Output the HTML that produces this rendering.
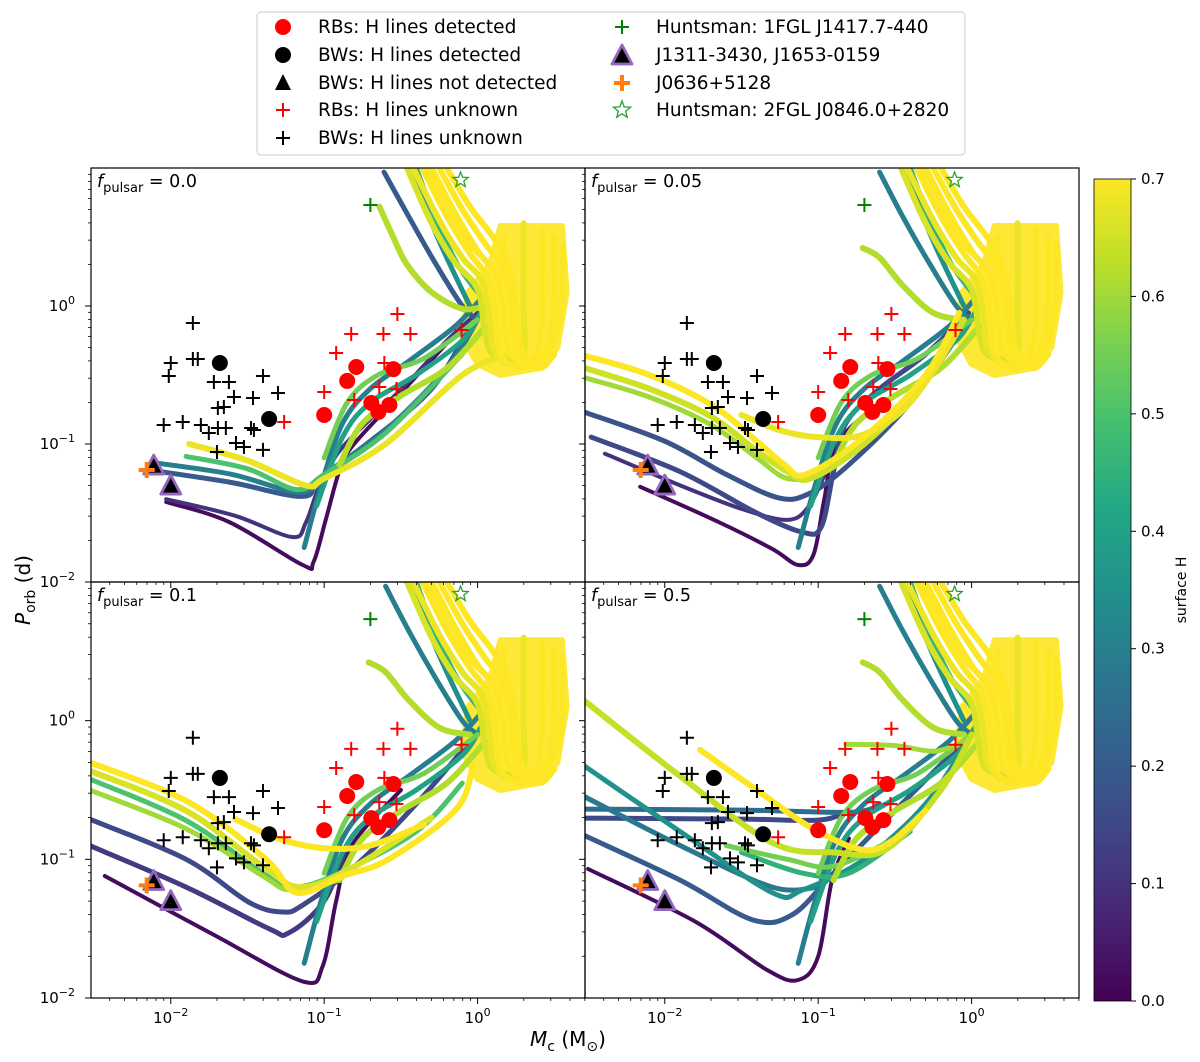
<!DOCTYPE html>
<html><head><meta charset="utf-8">
<style>
html,body{margin:0;padding:0;background:#fff;}
svg{display:block;font-family:"DejaVu Sans","Liberation Sans",sans-serif;}
</style></head>
<body>
<svg id="chart" width="1200" height="1062" viewBox="0 0 1200 1062" xmlns="http://www.w3.org/2000/svg">
<g id="tracks-layer"></g>
<g id="points-layer"></g>
<g id="axes-layer"></g>
</svg>
<script>
// ---- scatter data (log10 Mc, log10 Porb) ----
const bwUnknownX = [-1.856,-2.0,-2.013,-1.856,-1.824,-1.719,-1.621,-1.588,-1.464,-1.399,-1.301,-1.693,-1.654,-2.046,-1.922,-1.804,-1.693,-1.641,-1.752,-1.477,-1.458,-1.575,-1.523,-1.399,-1.699];
const bwUnknownY = [-0.123,-0.413,-0.507,-0.384,-0.384,-0.551,-0.551,-0.659,-0.667,-0.507,-0.630,-0.739,-0.732,-0.862,-0.841,-0.862,-0.884,-0.884,-0.920,-0.884,-0.899,-0.993,-1.022,-1.043,-1.058];
const bwDetX = [-1.680,-1.359];
const bwDetY = [-0.413,-0.819];
const rbDetX = [-0.791,-0.850,-1.0,-0.549,-0.693,-0.647,-0.575];
const rbDetY = [-0.442,-0.543,-0.790,-0.457,-0.703,-0.768,-0.717];
const rbUnknownX = [-0.523,-0.824,-0.614,-0.438,-0.922,-1.0,-0.804,-0.641,-0.529,-1.261,-0.608,-0.105];
const rbUnknownY = [-0.058,-0.203,-0.203,-0.203,-0.341,-0.623,-0.681,-0.587,-0.601,-0.841,-0.413,-0.174];
const huntsman1X = [-0.699], huntsman1Y = [0.732];
const huntsman2X = [-0.111], huntsman2Y = [0.913];
const j0636X = [-2.157], j0636Y = [-1.188];
const bwNotDetX = [-2.111,-2.0], bwNotDetY = [-1.167,-1.312];

// ---- evolutionary tracks: [surfaceH, [[log Mc, log P], ...]] ----
const fanTracks = [
 [0.66, [[-0.46,1.0],[-0.3,0.6],[-0.15,0.32],[0.0,0.12],[0.05,-0.2],[0.1,-0.35],[0.25,-0.4]]],
 [0.68, [[-0.42,1.0],[-0.25,0.62],[-0.1,0.35],[0.03,0.18],[0.08,-0.1],[0.1,-0.3],[0.2,-0.42],[0.3,-0.35],[0.3,0.0],[0.3,0.6]]],
 [0.7, [[-0.36,1.0],[-0.2,0.65],[-0.05,0.38],[0.07,0.2],[0.12,-0.05],[0.15,-0.35],[0.28,-0.45],[0.38,-0.35],[0.42,-0.05],[0.42,0.55]]],
 [0.7, [[-0.32,1.0],[-0.18,0.7],[-0.05,0.45],[0.08,0.3],[0.15,0.2],[0.17,0.5]]],
 [0.7, [[-0.3,1.0],[-0.15,0.68],[0.0,0.4],[0.12,0.22],[0.17,-0.05],[0.2,-0.32],[0.33,-0.42],[0.45,-0.3],[0.5,0.0],[0.5,0.5]]],
 [0.7, [[-0.25,1.0],[-0.1,0.7],[0.05,0.45],[0.17,0.27],[0.22,0.0],[0.25,-0.3],[0.38,-0.4],[0.5,-0.25],[0.55,0.05],[0.55,0.45]]],
 [0.7, [[-0.2,1.0],[-0.05,0.72],[0.1,0.5],[0.2,0.3],[0.25,0.0],[0.28,-0.3],[0.4,-0.45],[0.5,-0.35]]]
];
const fanEnvelope = [[-0.06,0.1],[0.08,0.3],[0.15,0.58],[0.55,0.58],[0.58,0.1],[0.52,-0.3],[0.4,-0.45],[0.15,-0.5],[0.0,-0.42],[-0.1,-0.22]];
const upperTracksA = [
 [0.2, [[-0.61,0.97],[-0.45,0.65],[-0.27,0.3],[-0.1,0.0],[0.0,-0.1]]],
 [0.35, [[-0.43,1.0],[-0.3,0.6],[-0.18,0.3],[-0.05,0.0]]],
 [0.45, [[-0.4,1.0],[-0.27,0.62],[-0.13,0.3],[0.0,0.1]]],
 [0.62, [[-0.64,0.72],[-0.55,0.5],[-0.46,0.3],[-0.3,0.1],[-0.1,-0.02],[0.05,0.0]]]
];
const upperTracksB = [
 [0.3, [[-0.6,0.97],[-0.45,0.65],[-0.27,0.3],[-0.1,0.0],[0.0,-0.1]]],
 [0.35, [[-0.43,1.0],[-0.3,0.6],[-0.18,0.3],[-0.05,0.0]]],
 [0.45, [[-0.4,1.0],[-0.27,0.62],[-0.13,0.3],[0.0,0.1]]],
 [0.62, [[-0.71,0.42],[-0.6,0.35],[-0.45,0.15],[-0.25,-0.05],[-0.05,-0.1]]]
];
const riserTracks = [
 [0.3, [[-1.13,-1.75],[-1.02,-1.3],[-0.88,-0.85],[-0.7,-0.6],[-0.45,-0.4],[-0.15,-0.15],[0.02,0.05]]],
 [0.4, [[-1.05,-1.45],[-0.88,-0.95],[-0.7,-0.7],[-0.4,-0.5],[-0.1,-0.25],[0.02,-0.05]]],
 [0.55, [[-1.0,-1.1],[-0.85,-0.7],[-0.65,-0.5],[-0.35,-0.38],[0.0,-0.1]]],
 [0.62, [[-0.9,-1.15],[-0.75,-0.85],[-0.5,-0.65],[-0.2,-0.45],[0.05,-0.15]]]
];
const lowerTracksA = [
 [0.02, [[-2.03,-1.42],[-1.62,-1.565],[-1.14,-1.877],[-1.07,-1.855],[-0.99,-1.55],[-0.9,-1.19],[-0.82,-1.02],[-0.6,-0.75],[-0.35,-0.45],[-0.1,-0.15]]],
 [0.1, [[-2.03,-1.40],[-1.58,-1.52],[-1.21,-1.674],[-1.12,-1.57],[-1.03,-1.30],[-0.9,-1.05],[-0.7,-0.82],[-0.45,-0.55],[-0.2,-0.25],[0.0,-0.05]]],
 [0.2, [[-2.07,-1.2],[-1.6,-1.28],[-1.14,-1.38],[-1.03,-1.25],[-0.7,-0.98],[-0.3,-0.6],[-0.05,-0.15]]],
 [0.3, [[-2.08,-1.14],[-1.6,-1.22],[-1.16,-1.35],[-1.0,-1.22],[-0.6,-0.9],[-0.2,-0.45],[0.0,-0.1]]],
 [0.5, [[-1.9,-1.09],[-1.5,-1.18],[-1.18,-1.33],[-1.0,-1.22],[-0.6,-0.92],[-0.1,-0.35]]],
 [0.68, [[-1.88,-1.0],[-1.5,-1.12],[-1.12,-1.3],[-1.0,-1.25],[-0.6,-1.0],[-0.1,-0.5],[0.2,-0.35]]]
];
const lowerTracksB = [
 [0.02, [[-2.16,-1.31],[-1.65,-1.565],[-1.3,-1.76],[-1.13,-1.877],[-1.03,-1.8],[-0.96,-1.4],[-0.88,-1.0],[-0.6,-0.7]]],
 [0.1, [[-2.39,-1.07],[-1.9,-1.3],[-1.5,-1.47],[-1.2,-1.55],[-1.06,-1.45],[-0.95,-1.2]]],
 [0.15, [[-2.48,-0.95],[-1.9,-1.2],[-1.4,-1.5],[-1.1,-1.64],[-0.98,-1.6],[-0.9,-1.2],[-0.82,-0.85],[-0.6,-0.6],[-0.3,-0.35],[-0.02,-0.05]]],
 [0.18, [[-2.52,-0.77],[-2.0,-0.98],[-1.6,-1.22],[-1.26,-1.39],[-1.06,-1.36],[-0.8,-1.15],[-0.4,-0.7],[-0.05,-0.15]]],
 [0.6, [[-2.52,-0.52],[-2.1,-0.66],[-1.7,-0.86],[-1.4,-1.1],[-1.2,-1.25],[-1.0,-1.2],[-0.6,-0.9]]],
 [0.65, [[-2.52,-0.45],[-2.1,-0.6],[-1.7,-0.8],[-1.4,-1.05],[-1.2,-1.2],[-1.05,-1.25],[-0.7,-1.0],[-0.3,-0.55],[-0.05,-0.1]]],
 [0.7, [[-2.52,-0.36],[-2.1,-0.5],[-1.69,-0.72],[-1.4,-0.98],[-1.22,-1.15],[-1.08,-1.22],[-0.7,-0.95],[-0.3,-0.5],[-0.08,-0.05]]],
 [0.68, [[-1.5,-0.79],[-1.25,-0.9],[-1.0,-0.95],[-0.7,-0.93],[-0.4,-0.7],[-0.1,-0.2]]]
];
const lowerTracksC = [
 [0.02, [[-2.43,-1.12],[-1.71,-1.55],[-1.14,-1.88],[-1.01,-1.77],[-0.92,-1.29],[-0.82,-0.9],[-0.5,-0.5]]],
 [0.12, [[-2.53,-0.9],[-1.9,-1.2],[-1.36,-1.5],[-1.23,-1.53],[-1.0,-1.3],[-0.85,-0.9]]],
 [0.15, [[-2.53,-0.71],[-1.9,-1.0],[-1.49,-1.31],[-1.27,-1.38],[-1.14,-1.33],[-0.8,-1.05],[-0.4,-0.6],[-0.05,-0.15]]],
 [0.5, [[-2.53,-0.42],[-1.9,-0.72],[-1.4,-1.1],[-1.2,-1.2],[-0.9,-1.1],[-0.4,-0.8],[-0.1,-0.45]]],
 [0.6, [[-2.53,-0.5],[-1.9,-0.78],[-1.4,-1.12],[-1.22,-1.22],[-0.9,-1.15]]],
 [0.66, [[-2.53,-0.36],[-1.9,-0.65],[-1.4,-1.05],[-1.15,-1.2],[-0.8,-1.05],[-0.3,-0.7]]],
 [0.7, [[-2.53,-0.3],[-1.88,-0.59],[-1.38,-1.0],[-1.18,-1.24],[-0.88,-1.12],[-0.58,-1.0],[-0.14,-0.64],[-0.03,-0.32]]],
 [0.7, [[-1.58,-0.71],[-1.3,-0.85],[-1.0,-0.92],[-0.7,-0.9],[-0.35,-0.75]]]
];
const lowerTracksD = [
 [0.02, [[-2.5,-1.07],[-1.8,-1.45],[-1.33,-1.8],[-1.13,-1.87],[-1.0,-1.7],[-0.91,-1.15],[-0.8,-0.85]]],
 [0.15, [[-2.52,-0.703],[-1.5,-0.71],[-1.0,-0.717],[-0.82,-0.66]]],
 [0.2, [[-2.52,-0.83],[-1.9,-1.15],[-1.43,-1.435],[-1.17,-1.4],[-0.9,-1.1],[-0.5,-0.65],[-0.05,-0.15]]],
 [0.25, [[-2.52,-0.638],[-1.5,-0.645],[-0.78,-0.66],[-0.6,-0.6]]],
 [0.28, [[-2.52,-0.55],[-1.9,-0.9],[-1.3,-1.2],[-1.0,-1.2]]],
 [0.35, [[-2.52,-0.33],[-1.9,-0.8],[-1.3,-1.24],[-1.1,-1.22],[-0.7,-1.0],[-0.3,-0.6],[0.0,-0.1]]],
 [0.45, [[-1.5,-0.95],[-1.1,-1.1],[-0.8,-1.1],[-0.4,-0.8]]],
 [0.55, [[-1.6,-0.9],[-1.2,-1.0],[-0.9,-1.05],[-0.5,-0.85]]],
 [0.6, [[-0.82,-0.17],[-0.5,-0.18],[-0.24,-0.22],[-0.05,-0.15]]],
 [0.64, [[-2.52,0.14],[-1.9,-0.4],[-1.3,-0.88],[-0.9,-0.95],[-0.56,-0.93],[-0.2,-0.5],[0.0,-0.1]]],
 [0.7, [[-1.77,-0.21],[-1.4,-0.5],[-1.0,-0.8],[-0.63,-0.93],[-0.3,-0.65]]]
];
const panelLabels = ["0.0","0.05","0.1","0.5"];
const yTickVals = [-2,-1,0];
const xTickVals = [-2,-1,0];
const cbTicks = [0.0,0.1,0.2,0.3,0.4,0.5,0.6,0.7];

const NS="http://www.w3.org/2000/svg";
const svg=document.getElementById('chart');
const tracksLayer=document.getElementById('tracks-layer');
const pointsLayer=document.getElementById('points-layer');
const axesLayer=document.getElementById('axes-layer');
function mk(tag,attrs,parent){const e=document.createElementNS(NS,tag);for(const k in attrs)e.setAttribute(k,attrs[k]);(parent||svg).appendChild(e);return e;}

const VIR=["#440154","#482475","#414487","#355f8d","#2a788e","#21918c","#22a884","#44bf70","#7ad151","#bddf26","#fde725"];
function hx(c){return [parseInt(c.slice(1,3),16),parseInt(c.slice(3,5),16),parseInt(c.slice(5,7),16)];}
function viridis(t){t=Math.max(0,Math.min(1,t));const f=t*10,i=Math.min(9,Math.floor(f)),r=f-i;const a=hx(VIR[i]),b=hx(VIR[i+1]);return `rgb(${a.map((v,k)=>Math.round(v+(b[k]-v)*r)).join(',')})`;}
function hcol(h){return viridis(h/0.7);}

const XD=[-2.52,0.70], YD=[-2.0,1.0];
const panels=[
 {x0:91,x1:585,y0:168,y1:582,tracks:[lowerTracksA,riserTracks,upperTracksA,fanTracks],left:true,bottom:false},
 {x0:585,x1:1079,y0:168,y1:582,tracks:[lowerTracksB,riserTracks,upperTracksB,fanTracks],left:false,bottom:false},
 {x0:91,x1:585,y0:582,y1:998,tracks:[lowerTracksC,riserTracks,upperTracksB,fanTracks],left:true,bottom:true},
 {x0:585,x1:1079,y0:582,y1:998,tracks:[lowerTracksD,riserTracks,upperTracksB,fanTracks],left:false,bottom:true}
];
function sx(p,v){return p.x0+(v-XD[0])/(XD[1]-XD[0])*(p.x1-p.x0);}
function sy(p,v){return p.y1-(v-YD[0])/(YD[1]-YD[0])*(p.y1-p.y0);}
function smooth(pts){
  let d=`M${pts[0][0].toFixed(1)},${pts[0][1].toFixed(1)}`;
  for(let i=0;i<pts.length-1;i++){
    const p0=pts[Math.max(0,i-1)],p1=pts[i],p2=pts[i+1],p3=pts[Math.min(pts.length-1,i+2)];
    const c1=[p1[0]+(p2[0]-p0[0])/6,p1[1]+(p2[1]-p0[1])/6],c2=[p2[0]-(p3[0]-p1[0])/6,p2[1]-(p3[1]-p1[1])/6];
    d+=`C${c1[0].toFixed(1)},${c1[1].toFixed(1)} ${c2[0].toFixed(1)},${c2[1].toFixed(1)} ${p2[0].toFixed(1)},${p2[1].toFixed(1)}`;
  }
  return d;
}
const defs=mk('defs',{});
function plus(g,x,y,c,s,w,name){
  const e=mk('path',{d:`M${x-s},${y}H${x+s}M${x},${y-s}V${y+s}`,stroke:c,'stroke-width':w,fill:'none'},g);
  
  
}
function tri(g,x,y,name){
  const e=mk('path',{d:`M${x},${y-12}L${x+10},${y+7}L${x-10},${y+7}Z`,fill:'#000',stroke:'#9467bd','stroke-width':2.8,'stroke-linejoin':'round'},g);
  
  
}
function star(g,x,y,r,name){
  let d='';for(let i=0;i<10;i++){const a=-Math.PI/2+i*Math.PI/5,rr=i%2?r*0.42:r;d+=(i?'L':'M')+(x+rr*Math.cos(a)).toFixed(1)+','+(y+rr*Math.sin(a)).toFixed(1);}
  const e=mk('path',{d:d+'Z',fill:'none',stroke:'#2ca02c','stroke-width':1.3},g);
  
  
}

panels.forEach((p,pi)=>{
  const cp=mk('clipPath',{id:'clip'+pi},defs);
  mk('rect',{x:p.x0,y:p.y0,width:p.x1-p.x0,height:p.y1-p.y0},cp);
  const tg=mk('g',{'clip-path':`url(#clip${pi})`},tracksLayer);
  
  
  const envD='M'+fanEnvelope.map(q=>sx(p,q[0]).toFixed(1)+','+sy(p,q[1]).toFixed(1)).join('L')+'Z';
  const env=mk('path',{d:envD,fill:hcol(0.7),stroke:hcol(0.7),'stroke-width':6,'stroke-linejoin':'round',opacity:0.92},tg);
  
  
  const all=[].concat(...p.tracks).slice().sort((a,b)=>a[0]-b[0]);
  all.forEach(tr=>{
    const pts=tr[1].map(q=>[sx(p,q[0]),sy(p,q[1])]);
    const e=mk('path',{d:smooth(pts),fill:'none',stroke:hcol(tr[0]),'stroke-width':tr[0]>0.6?6:(tr[0]<0.12?4:5),'stroke-linecap':'round','stroke-linejoin':'round'},tg);
    
    
  });
  const pg=mk('g',{'clip-path':`url(#clip${pi})`},pointsLayer);
  
  
  bwUnknownX.forEach((v,i)=>plus(pg,sx(p,v),sy(p,bwUnknownY[i]),'#000',7,2,'bw-unknown-point'));
  rbUnknownX.forEach((v,i)=>plus(pg,sx(p,v),sy(p,rbUnknownY[i]),'#ff0000',7,2,'rb-unknown-point'));
  bwDetX.forEach((v,i)=>{const e=mk('circle',{cx:sx(p,v),cy:sy(p,bwDetY[i]),r:8,fill:'#000'},pg);
    
    });
  rbDetX.forEach((v,i)=>{const e=mk('circle',{cx:sx(p,v),cy:sy(p,rbDetY[i]),r:8,fill:'#ff0000'},pg);
    
    });
  huntsman1X.forEach((v,i)=>plus(pg,sx(p,v),sy(p,huntsman1Y[i]),'#008000',7,2,'huntsman-1fgl-point'));
  huntsman2X.forEach((v,i)=>star(pg,sx(p,v),sy(p,huntsman2Y[i]),8,'huntsman-2fgl-point'));
  bwNotDetX.forEach((v,i)=>tri(pg,sx(p,v),sy(p,bwNotDetY[i]),'bw-not-detected-point'));
  j0636X.forEach((v,i)=>plus(pg,sx(p,v),sy(p,j0636Y[i]),'#ff7f0e',8,4,'j0636-point'));

  const fr=mk('rect',{x:p.x0,y:p.y0,width:p.x1-p.x0,height:p.y1-p.y0,fill:'none',stroke:'#000','stroke-width':1.2},axesLayer);
  
  
  for(let dec=-2;dec<=0;dec++){
    for(let m=1;m<10;m++){
      const v=dec+Math.log10(m); if(v>YD[1])break;
      const y=sy(p,v); mk('line',{x1:p.x0,x2:p.x0-(m===1?6:3),y1:y,y2:y,stroke:'#000','stroke-width':m===1?1:0.8},axesLayer);
    }
  }
  for(let dec=-3;dec<=0;dec++){
    for(let m=1;m<10;m++){
      const v=dec+Math.log10(m); if(v<XD[0]||v>XD[1])continue;
      const x=sx(p,v); mk('line',{x1:x,x2:x,y1:p.y1,y2:p.y1+(m===1?6:3),stroke:'#000','stroke-width':m===1?1:0.8},axesLayer);
    }
  }
  if(p.left){
    yTickVals.forEach(v=>{
      const t=mk('text',{x:p.x0-16,y:sy(p,v)+5,'text-anchor':'end','font-size':15,fill:'#000'},axesLayer);
      
      
      t.innerHTML=`10<tspan dy="-7" font-size="11">${v===0?'0':'\u2212'+(-v)}</tspan>`;
    });
  }
  if(p.bottom){
    xTickVals.forEach(v=>{
      const t=mk('text',{x:sx(p,v),y:p.y1+25,'text-anchor':'middle','font-size':15,fill:'#000'},axesLayer);
      
      
      t.innerHTML=`10<tspan dy="-7" font-size="11">${v===0?'0':'\u2212'+(-v)}</tspan>`;
    });
  }
  const lab=mk('text',{x:p.x0+6,y:p.y0+19,'font-size':17.5,fill:'#000'},axesLayer);
  
  
  lab.innerHTML=`<tspan font-style="italic">f</tspan><tspan dy="5" font-size="13">pulsar</tspan><tspan dy="-5"> = ${panelLabels[pi]}</tspan>`;
});

const yt=mk('text',{x:0,y:0,transform:'translate(30,590) rotate(-90)','text-anchor':'middle','font-size':20,fill:'#000'},axesLayer);


yt.innerHTML='<tspan font-style="italic">P</tspan><tspan dy="5" font-size="14">orb</tspan><tspan dy="-5"> (d)</tspan>';
const xt=mk('text',{x:568,y:1046,'text-anchor':'middle','font-size':20,fill:'#000'},axesLayer);


xt.innerHTML='<tspan font-style="italic">M</tspan><tspan dy="5" font-size="14">c</tspan><tspan dy="-5"> (M</tspan><tspan dy="5" font-size="14">\u2299</tspan><tspan dy="-5">)</tspan>';

const cbx=1094,cbw=37,cby0=179,cby1=1001;
const grad=mk('linearGradient',{id:'cbg',x1:0,y1:1,x2:0,y2:0},defs);
VIR.forEach((c,i)=>mk('stop',{offset:(i/10),'stop-color':c},grad));
const cb=mk('rect',{x:cbx,y:cby0,width:cbw,height:cby1-cby0,fill:'url(#cbg)',stroke:'#000','stroke-width':0.8},axesLayer);


cbTicks.forEach(v=>{
  const y=cby1-(v/0.7)*(cby1-cby0);
  mk('line',{x1:cbx+cbw,x2:cbx+cbw+5,y1:y,y2:y,stroke:'#000','stroke-width':1},axesLayer);
  const t=mk('text',{x:cbx+cbw+10,y:y+5,'font-size':15,fill:'#000'},axesLayer);
  
  
  t.textContent=v.toFixed(1);
});
const cbt=mk('text',{x:0,y:0,transform:'translate(1186,590) rotate(-90)','text-anchor':'middle','font-size':14,fill:'#000'},axesLayer);


cbt.textContent='surface H';

const lg=mk('g',{},axesLayer);


mk('rect',{x:257,y:12,width:708,height:143,rx:4,fill:'#fff',stroke:'#ccc','stroke-width':1},lg);
const legText1=["RBs: H lines detected","BWs: H lines detected","BWs: H lines not detected","RBs: H lines unknown","BWs: H lines unknown"];
const legText2=["Huntsman: 1FGL J1417.7-440","J1311-3430, J1653-0159","J0636+5128","Huntsman: 2FGL J0846.0+2820"];
const rows=[27,55,83,110,138];
legText1.forEach((s,i)=>{
  const t=mk('text',{x:318,y:rows[i]+6,'font-size':18.5,fill:'#000'},lg);
  
  
  t.textContent=s;
});
legText2.forEach((s,i)=>{
  const t=mk('text',{x:656,y:rows[i]+6,'font-size':18.5,fill:'#000'},lg);
  
  
  t.textContent=s;
});
mk('circle',{cx:283,cy:rows[0],r:8,fill:'#ff0000'},lg);
mk('circle',{cx:283,cy:rows[1],r:8,fill:'#000'},lg);
mk('path',{d:`M283,${rows[2]-9}L291,${rows[2]+7}L275,${rows[2]+7}Z`,fill:'#000'},lg);
plus(lg,283,rows[3],'#ff0000',7,2,'legend-marker');
plus(lg,283,rows[4],'#000',7,2,'legend-marker');
plus(lg,622,rows[0],'#008000',7,2,'legend-marker');
tri(lg,622,rows[1]+2,'legend-marker');
plus(lg,622,rows[2],'#ff7f0e',8,4,'legend-marker');
star(lg,622,rows[3],9,'legend-marker');
</script>
</body></html>
